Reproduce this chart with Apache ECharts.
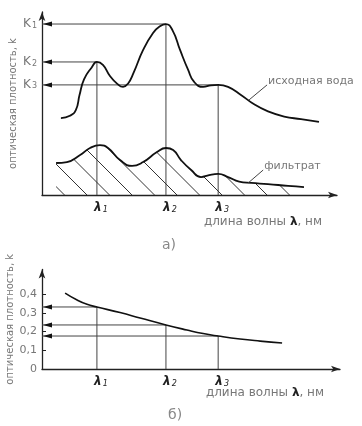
<!DOCTYPE html>
<html>
<head>
<meta charset="utf-8">
<script src="https://cdn.jsdelivr.net/npm/echarts@6/dist/echarts.min.js"></script>
<style>html,body{margin:0;padding:0;background:#fff}#c{width:362px;height:426px}</style>
</head>
<body>
<div id="c"></div>
<script>
// ---- data (x: relative wavelength units, y: optical density) ----
const waterCurve = [[6.3,0.416],[9.3,0.428],[11.3,0.46],[12.5,0.54],[14,0.625],[16.5,0.688],[18.3,0.719],[20.3,0.703],[22.7,0.642],[25,0.602],[27,0.584],[28.7,0.603],[30.5,0.66],[33.7,0.784],[37,0.876],[39.3,0.912],[41.3,0.924],[43.5,0.89],[46,0.784],[48.7,0.676],[50.7,0.611],[53.7,0.584],[56.3,0.593],[58.7,0.595],[62,0.584],[66.3,0.541],[70.7,0.49],[75.3,0.452],[80.7,0.424],[86.3,0.41],[92.3,0.395]];
const filtrateCurve = [[4.7,0.173],[8.3,0.178],[12.7,0.216],[16,0.254],[19.3,0.270],[22,0.254],[26,0.189],[30,0.157],[33.7,0.178],[38.3,0.232],[41.3,0.254],[43.7,0.243],[46.3,0.189],[49.7,0.135],[53,0.097],[55.7,0.108],[58.7,0.114],[62,0.097],[65.7,0.072],[69.7,0.065],[75.3,0.059],[82,0.049],[87.3,0.043]];
const lambdas = [18.3, 41.3, 58.7];
const lambdaNames = ['1', '2', '3'];
const topK = [0.719, 0.924, 0.595];
const topKNames = ['2', '1', '3'];
const bottomCurve = [[7.7,0.405],[11.7,0.368],[15,0.345],[18.3,0.331],[26,0.301],[32.7,0.272],[41.3,0.235],[48.3,0.208],[53.7,0.189],[58.7,0.176],[66,0.16],[72.7,0.149],[80,0.139]];
const bottomK = [0.331, 0.235, 0.176];
const bottomTicks = [0, 0.1, 0.2, 0.3, 0.4];
const bottomTickLabels = ['0', '0,1', '0,2', '0,3', '0,4'];
const notes = [
  {text: 'исходная вода', from: [69, 0.514], to: [75, 0.595]},
  {text: 'фильтрат', from: [68.7, 0.065], to: [73.7, 0.135]}
];
const yName = 'оптическая плотность, k';
const xName = 'длина волны {b|λ}, нм';

// hatch pattern
const tile = document.createElement('canvas');
tile.width = 45; tile.height = 45;
(function(){
  const g = tile.getContext('2d');
  g.strokeStyle = '#333'; g.lineWidth = 1;
  [4.5, 27].forEach(c => { for (let k = -1; k <= 1; k++) { g.beginPath(); g.moveTo(c + 45*k, 0); g.lineTo(c + 45*k + 45, 45); g.stroke(); } });
})();

const textGray = '#777';
const font = 'DejaVu Sans';
const lamRich = {l: {fontSize: 12, fontWeight: 'bold', fontStyle: 'italic', fill: '#222', fontFamily: font}, n: {fontSize: 8, fontStyle: 'italic', fill: '#222', fontFamily: font, padding: [3,0,0,1]}};
const kRich = {l: {fontSize: 12, fill: textGray, fontFamily: font}, n: {fontSize: 8, fill: textGray, fontFamily: font, padding: [3,0,0,1]}};

function guideRender(kNames, showK) {
  return function(params, api) {
    const lam = api.value(0), k = api.value(1), i = params.dataIndex;
    const pk = api.coord([lam, k]);
    const pb = api.coord([lam, 0]);
    const pa = api.coord([0, k]);
    const ls = {stroke: '#444', lineWidth: 1};
    const ch = [
      {type: 'line', shape: {x1: pa[0], y1: pa[1], x2: pk[0], y2: pk[1]}, style: ls},
      {type: 'line', shape: {x1: pk[0], y1: pk[1], x2: pb[0], y2: pb[1]}, style: ls},
      {type: 'polygon', shape: {points: [[pa[0]+1, pa[1]], [pa[0]+10, pa[1]-2.5], [pa[0]+10, pa[1]+2.5]]}, style: {fill: '#111'}},
      {type: 'text', x: pb[0] + 4, y: pb[1] + 13, style: {text: '{l|λ}{n|' + lambdaNames[i] + '}', rich: lamRich, align: 'center', verticalAlign: 'middle'}}
    ];
    if (showK) ch.push({type: 'text', x: pa[0] - 5, y: pa[1], style: {text: '{l|K}{n|' + kNames[i] + '}', rich: kRich, align: 'right', verticalAlign: 'middle'}});
    return {type: 'group', children: ch};
  };
}

const chart = echarts.init(document.getElementById('c'));
const axisLineStyle = {color: '#222', width: 1.3};
chart.setOption({
  animation: false,
  title: [
    {text: 'а)', left: 157, top: 233, textStyle: {fontSize: 14, fontWeight: 'normal', color: '#888', fontFamily: font}},
    {text: 'б)', left: 163, top: 403, textStyle: {fontSize: 14, fontWeight: 'normal', color: '#888', fontFamily: font}}
  ],
  grid: [
    {left: 42, right: 25, top: 12, bottom: 231, outerBoundsMode: 'none', containLabel: false},
    {left: 42, right: 22, top: 269.5, bottom: 57, outerBoundsMode: 'none', containLabel: false}
  ],
  xAxis: [
    {gridIndex: 0, type: 'value', min: 0, max: 98.3, axisLine: {symbol: ['none', 'arrow'], symbolSize: [5, 9], lineStyle: axisLineStyle}, axisTick: {show: false}, axisLabel: {show: false}, splitLine: {show: false},
     name: xName, nameLocation: 'end', nameGap: -15, nameMoveOverlap: false, nameTextStyle: {align: 'right', verticalAlign: 'top', padding: [21, 0, 0, 0], color: textGray, fontSize: 12, fontFamily: font, rich: {b: {fontWeight: 'bold', color: '#222', fontSize: 12, fontFamily: font}}}},
    {gridIndex: 1, type: 'value', min: 0, max: 99.3, axisLine: {symbol: ['none', 'arrow'], symbolSize: [5, 9], lineStyle: axisLineStyle}, axisTick: {show: false}, axisLabel: {show: false}, splitLine: {show: false},
     name: xName, nameLocation: 'end', nameGap: -16, nameMoveOverlap: false, nameTextStyle: {align: 'right', verticalAlign: 'top', padding: [18, 0, 0, 0], color: textGray, fontSize: 12, fontFamily: font, rich: {b: {fontWeight: 'bold', color: '#222', fontSize: 12, fontFamily: font}}}}
  ],
  yAxis: [
    {gridIndex: 0, type: 'value', min: 0, max: 0.989, axisLine: {symbol: ['none', 'arrow'], symbolSize: [5, 9], lineStyle: axisLineStyle}, axisTick: {show: false}, axisLabel: {show: false}, splitLine: {show: false},
     name: yName, nameLocation: 'middle', nameRotate: 90, nameGap: 24, nameMoveOverlap: false, nameTextStyle: {color: textGray, fontSize: 10, fontFamily: font}},
    {gridIndex: 1, type: 'value', min: 0, max: 0.531, axisLine: {symbol: ['none', 'arrow'], symbolSize: [5, 9], lineStyle: axisLineStyle},
     axisTick: {show: true, inside: true, length: 4, customValues: bottomTicks.slice(1), lineStyle: {color: '#222'}},
     axisLabel: {customValues: bottomTicks, formatter: v => bottomTickLabels[bottomTicks.findIndex(t => Math.abs(t - v) < 1e-6)] || '', color: textGray, fontSize: 11, fontFamily: font, margin: 5},
     splitLine: {show: false},
     name: yName, nameLocation: 'middle', nameRotate: 90, nameGap: 27, nameMoveOverlap: false, nameTextStyle: {color: textGray, fontSize: 10, fontFamily: font}}
  ],
  series: [
    {type: 'custom', xAxisIndex: 0, yAxisIndex: 0, clip: false, z: 1, renderItem: guideRender(topKNames, true), data: lambdas.map((l, i) => [l, topK[i]])},
    {type: 'line', xAxisIndex: 0, yAxisIndex: 0, z: 3, data: filtrateCurve, smooth: 0.5, symbol: 'none', lineStyle: {color: '#111', width: 1.8}, areaStyle: {color: {image: tile, repeat: 'repeat'}, opacity: 1}},
    {type: 'line', xAxisIndex: 0, yAxisIndex: 0, z: 3, data: waterCurve, smooth: 0.5, symbol: 'none', lineStyle: {color: '#111', width: 1.8}},
    {type: 'custom', xAxisIndex: 0, yAxisIndex: 0, clip: false, z: 4,
     renderItem: function(params, api) {
       const n = notes[params.dataIndex];
       const a = api.coord(n.from), b = api.coord(n.to);
       return {type: 'group', children: [
         {type: 'line', shape: {x1: a[0], y1: a[1], x2: b[0], y2: b[1]}, style: {stroke: '#444', lineWidth: 1}},
         {type: 'text', x: b[0] + 1, y: b[1] - 4, style: {text: n.text, fill: textGray, fontSize: 11, fontFamily: font, align: 'left', verticalAlign: 'middle'}}
       ]};
     },
     data: notes.map(n => [n.to[0], n.to[1]])},
    {type: 'custom', xAxisIndex: 1, yAxisIndex: 1, clip: false, z: 1, renderItem: guideRender(topKNames, false), data: lambdas.map((l, i) => [l, bottomK[i]])},
    {type: 'line', xAxisIndex: 1, yAxisIndex: 1, z: 3, data: bottomCurve, smooth: 0.5, symbol: 'none', lineStyle: {color: '#111', width: 1.6}}
  ]
});
</script>
</body>
</html>
